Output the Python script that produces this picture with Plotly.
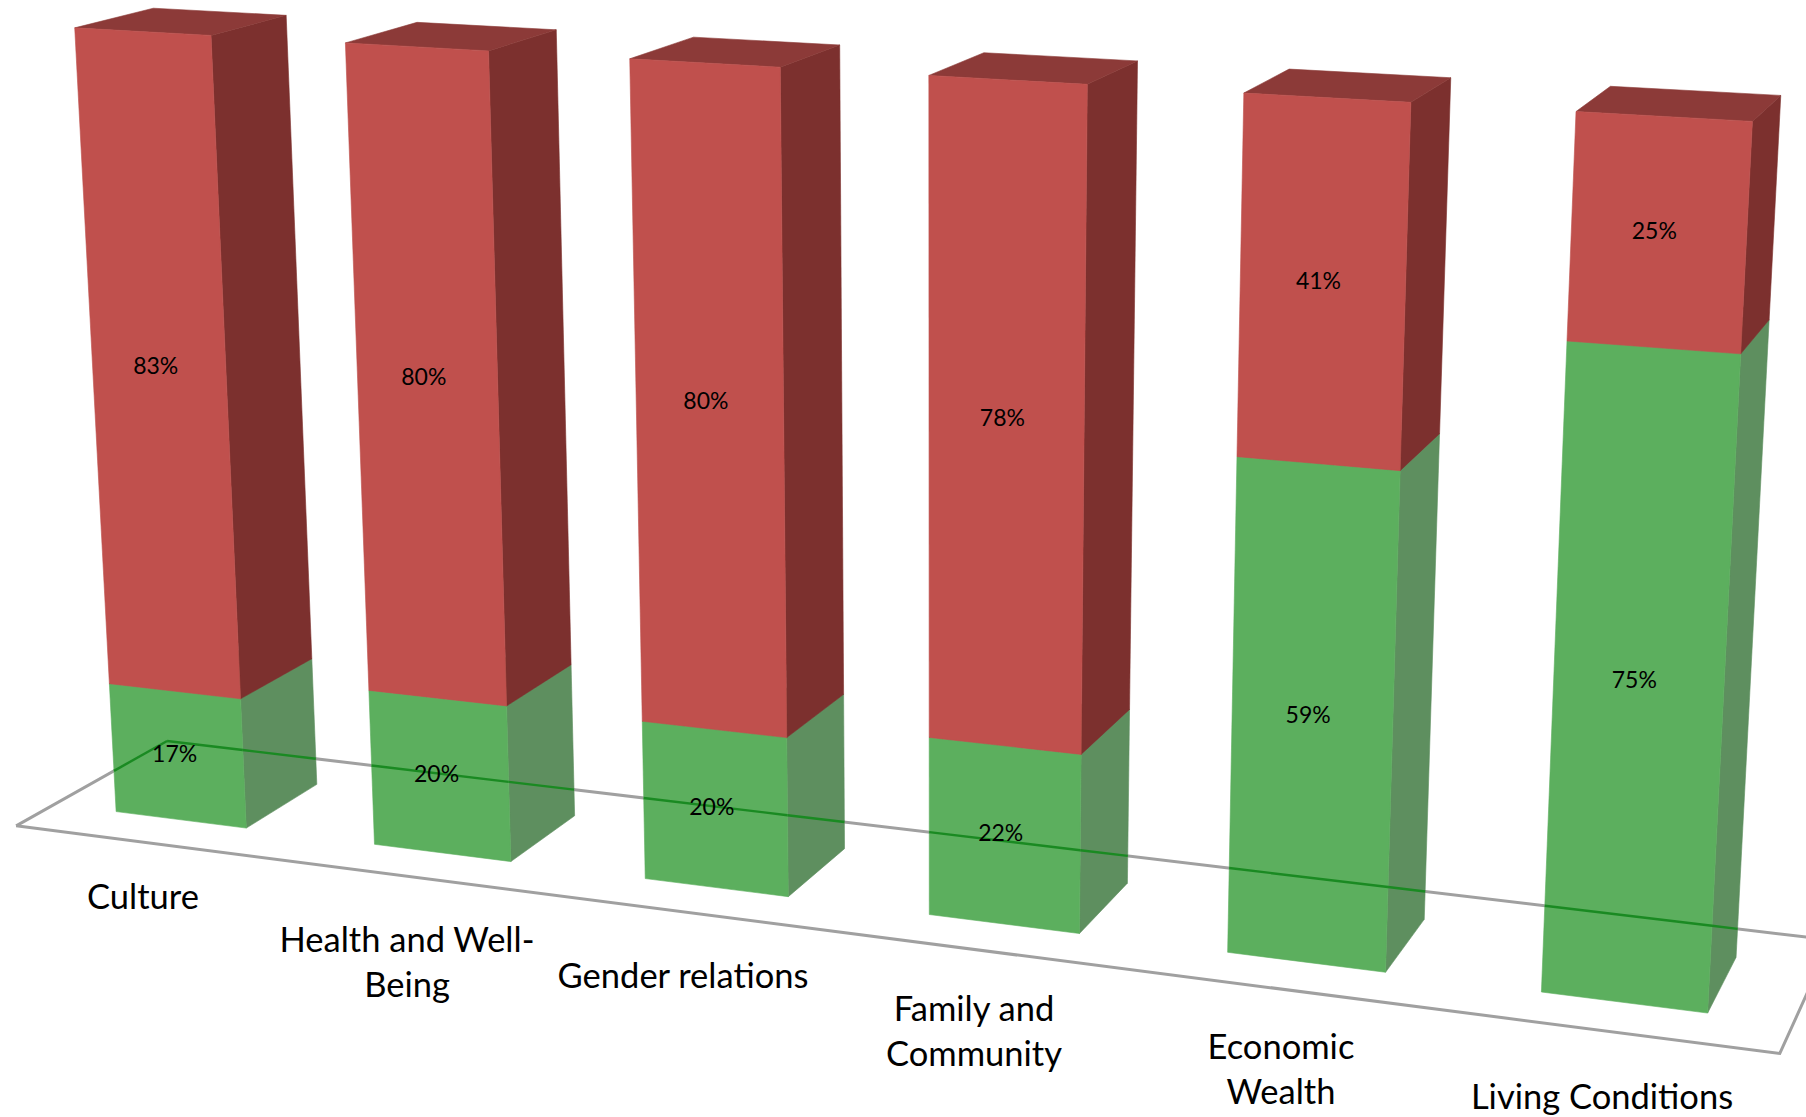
import numpy as np
import plotly.graph_objects as go

# Survey results per domain, in percent (stacked to 100)
categories = ["Culture", "Health and Well-<br>Being", "Gender relations",
              "Family and<br>Community", "Economic<br>Wealth", "Living Conditions"]
green_values = [17, 20, 20, 22, 59, 75]
red_values = [83, 80, 80, 78, 41, 25]

WIDTH, HEIGHT = 1806, 1117
S = WIDTH / 1568

# Perspective camera for the 3D column look: vanishing points of the
# category, depth and value directions, the floor corner, and axis foreshortening.
VP_X = np.array([-9479.0, -508.0]) * S
VP_Y = np.array([2190.0, -506.0]) * S
VP_Z = np.array([814.0, 14198.0]) * S
ORIGIN = np.array([14.0, 717.0]) * S
ALPHA, BETA, GAMMA = -0.1389, 0.0641, -0.0485

FIRST_CENTRE, CENTRE_STEP = 0.0828, 0.1664
BAR_WIDTH = 0.0848
BAR_FRONT, BAR_BACK = 0.247, 0.745
VALUE_LABEL_SHIFT = -0.002
VALUE_LABEL_DROP = 0.5

RED = dict(front="#C0504D", side="#7C302E", top="#8C3A38")
GREEN = dict(front="#5CAF5E", side="#5E8F5F", top="#5E8F5F")
FLOOR_COLOR = "#A0A0A0"
FLOOR_OVER_BAR = "#1A8A22"
FONT = "Lato"


def project(x, y, z):
    """Map category position, depth (0-1) and value share (0-1) to canvas position."""
    a, b, c = ALPHA * x, BETA * y, GAMMA * z
    w = a + b + c + 1
    return (a * VP_X + b * VP_Y + c * VP_Z + ORIGIN) / w


def polygon(fig, corners, color):
    pts = np.array([project(*p) for p in corners])
    pts = np.vstack([pts, pts[:1]])
    fig.add_trace(go.Scatter(x=pts[:, 0], y=pts[:, 1], mode="lines", fill="toself",
                             fillcolor=color, line=dict(color=color, width=0.6),
                             hoverinfo="skip"))


def clip_to_convex(p0, p1, poly):
    """Part of segment p0-p1 inside a convex polygon, or None."""
    t0, t1 = 0.0, 1.0
    centre = poly.mean(axis=0)
    d = p1 - p0
    for i in range(len(poly)):
        e0, e1 = poly[i], poly[(i + 1) % len(poly)]
        n = np.array([e1[1] - e0[1], e0[0] - e1[0]])
        if n @ (centre - e0) < 0:
            n = -n
        num, den = n @ (p0 - e0), n @ d
        if abs(den) < 1e-9:
            if num < 0:
                return None
            continue
        t = -num / den
        if den > 0:
            t0 = max(t0, t)
        else:
            t1 = min(t1, t)
    if t0 >= t1:
        return None
    return p0 + t0 * d, p0 + t1 * d


def draw_segment(fig, x0, x1, z0, z1, palette):
    polygon(fig, [(x1, BAR_FRONT, z0), (x1, BAR_BACK, z0), (x1, BAR_BACK, z1), (x1, BAR_FRONT, z1)],
            palette["side"])
    polygon(fig, [(x0, BAR_FRONT, z1), (x1, BAR_FRONT, z1), (x1, BAR_BACK, z1), (x0, BAR_BACK, z1)],
            palette["top"])
    polygon(fig, [(x0, BAR_FRONT, z0), (x1, BAR_FRONT, z0), (x1, BAR_FRONT, z1), (x0, BAR_FRONT, z1)],
            palette["front"])


fig = go.Figure()

# Floor outline, behind the columns
floor = [(0, 0, 0), (1, 0, 0), (1, 1, 0), (0, 1, 0), (0, 0, 0)]
floor_xy = np.array([project(*p) for p in floor])
fig.add_trace(go.Scatter(x=floor_xy[:, 0], y=floor_xy[:, 1], mode="lines",
                         line=dict(color=FLOOR_COLOR, width=3), hoverinfo="skip"))

green_faces = []
n = len(categories)
centres = [FIRST_CENTRE + i * CENTRE_STEP for i in range(n)]
for i, centre in enumerate(centres):
    x0, x1 = centre - BAR_WIDTH / 2, centre + BAR_WIDTH / 2
    split = green_values[i] / 100
    total = split + red_values[i] / 100
    draw_segment(fig, x0, x1, 0, split, GREEN)
    draw_segment(fig, x0, x1, split, total, RED)
    green_faces.append(np.array([project(*p) for p in
                                 [(x0, BAR_FRONT, 0), (x1, BAR_FRONT, 0), (x1, BAR_FRONT, split), (x0, BAR_FRONT, split)]]))
    green_faces.append(np.array([project(*p) for p in
                                 [(x1, BAR_FRONT, 0), (x1, BAR_BACK, 0), (x1, BAR_BACK, split), (x1, BAR_FRONT, split)]]))

# The floor's far edges show through the green columns
for p0, p1 in [(floor_xy[3], floor_xy[0]), (floor_xy[3], floor_xy[2])]:
    for face in green_faces:
        seg = clip_to_convex(p0, p1, face)
        if seg is not None:
            fig.add_trace(go.Scatter(x=[seg[0][0], seg[1][0]], y=[seg[0][1], seg[1][1]], mode="lines",
                                     line=dict(color=FLOOR_OVER_BAR, width=2.4), hoverinfo="skip"))

# Value labels, centred on each front face
lx, ly, lt = [], [], []
for i, centre in enumerate(centres):
    split = green_values[i] / 100
    for mid, v in [(split / 2, green_values[i]), (split + red_values[i] / 200, red_values[i])]:
        q = project(centre + VALUE_LABEL_SHIFT, BAR_FRONT, mid)
        lx.append(q[0]); ly.append(q[1] + VALUE_LABEL_DROP); lt.append(f"{v}%")
fig.add_trace(go.Scatter(x=lx, y=ly, text=lt, mode="text", textposition="middle center",
                         textfont=dict(family=FONT, size=23, color="#000000"), hoverinfo="skip"))

# Category labels under the floor
label_x = [143, 407, 683, 974, 1281, 1602]
label_y = [900, 966, 979, 1035, 1073, 1100]
fig.add_trace(go.Scatter(x=label_x, y=label_y, text=categories, mode="text", textposition="middle center",
                         textfont=dict(family=FONT, size=34.5, color="#000000"), hoverinfo="skip"))

fig.update_layout(
    width=WIDTH, height=HEIGHT, margin=dict(l=0, r=0, t=0, b=0),
    paper_bgcolor="white", plot_bgcolor="white", showlegend=False,
    xaxis=dict(range=[0, WIDTH], visible=False, fixedrange=True),
    yaxis=dict(range=[HEIGHT, 0], visible=False, fixedrange=True),
)
fig.write_html("out.html", config=dict(displayModeBar=False))
